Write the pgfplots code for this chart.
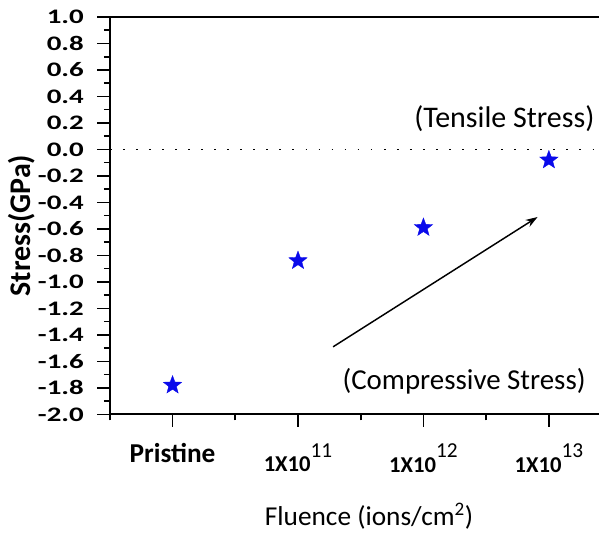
\documentclass[border=0pt]{standalone}
\usepackage{fontspec}
\setmainfont{Carlito}
\newfontfamily\tickfont[FakeStretch=1.4]{Carlito}
\usepackage{pgfplots}
\pgfplotsset{compat=1.18}
\usetikzlibrary{arrows.meta}
\definecolor{starblue}{RGB}{10,10,235}
\pgfdeclareplotmark{fstar}{%
  \pgfpathmoveto{\pgfpointpolar{90}{\pgfplotmarksize}}%
  \pgfpathlineto{\pgfpointpolar{126}{0.42\pgfplotmarksize}}%
  \pgfpathlineto{\pgfpointpolar{162}{\pgfplotmarksize}}%
  \pgfpathlineto{\pgfpointpolar{198}{0.42\pgfplotmarksize}}%
  \pgfpathlineto{\pgfpointpolar{234}{\pgfplotmarksize}}%
  \pgfpathlineto{\pgfpointpolar{270}{0.42\pgfplotmarksize}}%
  \pgfpathlineto{\pgfpointpolar{306}{\pgfplotmarksize}}%
  \pgfpathlineto{\pgfpointpolar{342}{0.42\pgfplotmarksize}}%
  \pgfpathlineto{\pgfpointpolar{18}{\pgfplotmarksize}}%
  \pgfpathlineto{\pgfpointpolar{54}{0.42\pgfplotmarksize}}%
  \pgfpathclose
  \pgfusepathqfillstroke}
\newcommand{\fl}[1]{\textbf{1X10}\raisebox{1.35ex}{\fontsize{16}{18}\selectfont #1}}
\begin{document}
\begin{tikzpicture}
\begin{axis}[
  name=ax,
  scale only axis,
  width=367.5pt, height=298.5pt,
  xmin=-0.5, xmax=3.4,
  ymin=-2.0, ymax=1.0,
  axis lines=left,
  axis line style={-, line width=1.4pt},
  tick style={line width=1.2pt, black},
  tick align=outside,
  major tick length=9.5pt,
  minor tick length=4.5pt,
  xtick={0,1,2,3},
  minor xtick={-0.5,0.5,1.5,2.5},
  xticklabels={{\fontsize{20.5}{24}\selectfont\bfseries Pristine},
    {\fl{11}}, {\fl{12}}, {\fl{13}}},
  x tick label style={font=\fontsize{17}{20}\selectfont, anchor=north, yshift=-9pt},
  ytick={-2.0,-1.8,-1.6,-1.4,-1.2,-1.0,-0.8,-0.6,-0.4,-0.2,0.0,0.2,0.4,0.6,0.8,1.0},
  yticklabels={-2.0,-1.8,-1.6,-1.4,-1.2,-1.0,-0.8,-0.6,-0.4,-0.2,0.0,0.2,0.4,0.6,0.8,1.0},
  minor y tick num=1,
  yticklabel style={font=\tickfont\fontsize{15.5}{17}\selectfont\bfseries, anchor=east, xshift=-6.5pt},
  ylabel={\textbf{Stress(GPa)}},
  ylabel style={font=\fontsize{22.5}{26}\selectfont, at={(axis description cs:-0.18,0.475)}, anchor=center, rotate=0},
  xlabel={Fluence (ions/cm\textsuperscript{2})},
  xlabel style={font=\fontsize{20.5}{24}\selectfont, at={(axis description cs:0.53,-0.256)}, anchor=center},
  clip=false,
]
\addplot[only marks, mark=fstar, mark size=7.2pt, draw=starblue, fill=starblue, mark options={line width=0.3pt}]
  coordinates {(0,-1.78) (1,-0.84) (2,-0.59) (3,-0.08)};
\addplot[black, line width=1.1pt, dash pattern=on 1.3pt off 8.5pt] coordinates {(-0.5,0) (3.4,0)};
\draw[line width=1.4pt] (rel axis cs:0,1) -- (rel axis cs:1,1);
\draw[line width=1.1pt, -{Stealth[length=9pt,width=6pt]}] (axis cs:1.28,-1.49) -- (axis cs:2.91,-0.51);
\node[anchor=east, font=\fontsize{22.5}{26}\selectfont] at (axis cs:3.40,0.235) {(Tensile Stress)};
\node[anchor=east, font=\fontsize{21.7}{26}\selectfont] at (axis cs:3.33,-1.75) {(Compressive Stress)};
\end{axis}
\path[use as bounding box] ([xshift=-82.5pt,yshift=-88.5pt]ax.south west) rectangle ([yshift=12.75pt]ax.north east);
\end{tikzpicture}
\end{document}
